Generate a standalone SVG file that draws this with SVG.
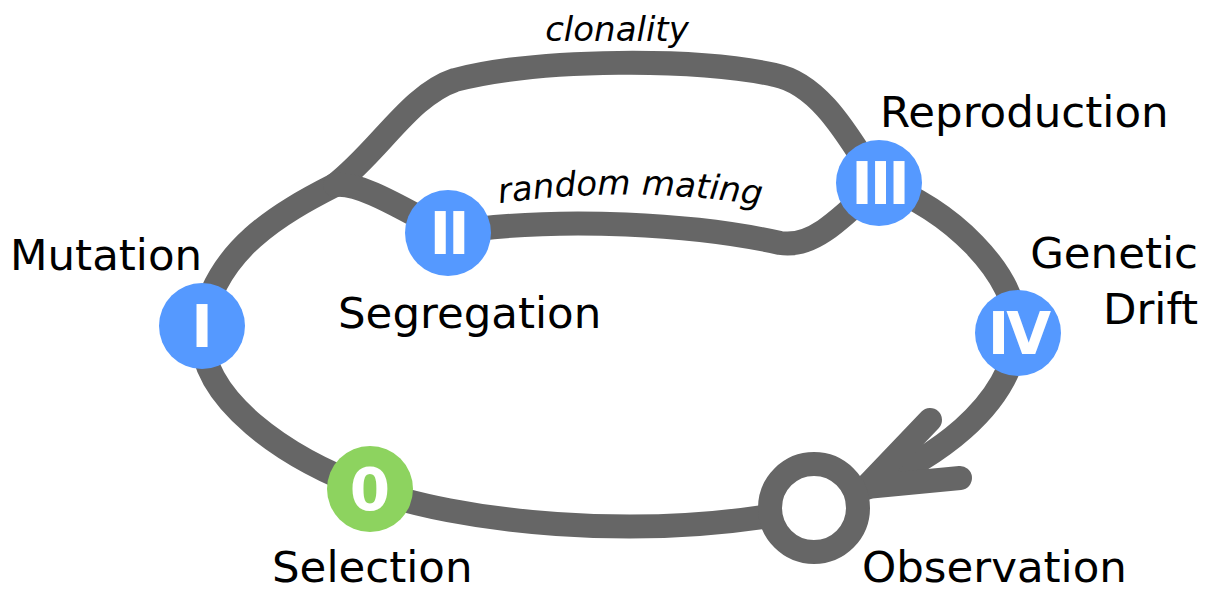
<svg xmlns="http://www.w3.org/2000/svg" width="1212" height="593" viewBox="0 0 1212 593">
<style>
.edge{fill:none;stroke:#666666;stroke-width:24;stroke-linecap:round;stroke-linejoin:round}
.lbl{font-family:"DejaVu Sans",sans-serif;font-size:43.5px;fill:#000}
.ital{font-family:"DejaVu Sans",sans-serif;font-style:italic;font-size:34px;fill:#000}
.num{font-family:"DejaVu Sans",sans-serif;font-weight:bold;font-size:58px;fill:#fff;text-anchor:middle}
.blue{fill:#5599ff}
.green{fill:#8dd35f}
</style>
<defs>
<path id="rmPath" d="M495,204 Q630,184 765,206"/>
</defs>
<rect width="1212" height="593" fill="#fff"/>
<g id="connectors">
<path class="edge" d="M335,185 C280,213 215,250 202,326 C195,400 290,460 370,489 C450,520 640,545 813,508 L866,488 C930,460 1010,410 1018,333 C1015,270 950,210 879,183"/>
<path class="edge" d="M879,183 C855,150 825,85 775,75 C700,58 540,58 455,80 C410,95 380,150 335,185"/>
<path class="edge" d="M335,185 C355,183 380,195 448,233 C560,215 700,225 780,243 C810,248 835,225 879,183"/>
<path class="edge" d="M930,420 L866,487 L960,478"/>
</g>
<g id="observation">
<circle cx="814" cy="508" r="44" fill="#fff" stroke="#666666" stroke-width="24"/>
<text class="lbl" x="862" y="582">Observation</text>
</g>
<g id="node0">
<circle class="green" cx="370" cy="489" r="43"/>
<text class="num" x="370" y="510">0</text>
<text class="lbl" x="272" y="582">Selection</text>
</g>
<g id="nodeI">
<circle class="blue" cx="202" cy="326" r="43"/>
<text class="num" x="202" y="347">I</text>
<text class="lbl" x="10" y="270">Mutation</text>
</g>
<g id="nodeII">
<circle class="blue" cx="448" cy="233" r="43"/>
<text class="num" x="448" y="254" letter-spacing="-3">II</text>
<text class="lbl" x="338" y="328">Segregation</text>
</g>
<g id="nodeIII">
<circle class="blue" cx="879" cy="183" r="43"/>
<text class="num" x="879" y="204" letter-spacing="-3">III</text>
<text class="lbl" x="880" y="127">Reproduction</text>
</g>
<g id="nodeIV">
<circle class="blue" cx="1018" cy="333" r="43"/>
<text class="num" x="1018" y="354" letter-spacing="-3">IV</text>
<text class="lbl" x="1198" y="268" text-anchor="end">Genetic</text>
<text class="lbl" x="1198" y="324" text-anchor="end">Drift</text>
</g>
<g id="edge-labels">
<text class="ital" x="617" y="41" text-anchor="middle">clonality</text>
<text class="ital"><textPath href="#rmPath" startOffset="50%" text-anchor="middle">random mating</textPath></text>
</g>
</svg>
